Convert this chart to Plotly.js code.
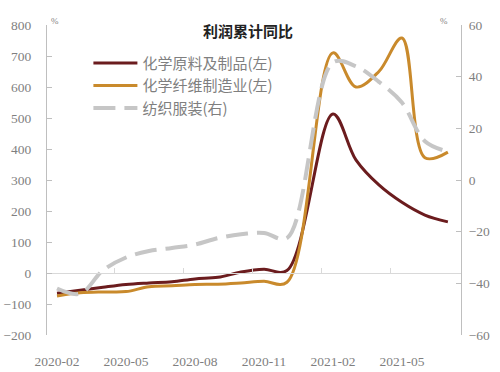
<!DOCTYPE html>
<html><head><meta charset="utf-8">
<script src="https://cdn.plot.ly/plotly-3.0.1.min.js"></script>
<style>html,body{margin:0;padding:0;background:#fff}#chart{width:500px;height:372px}</style>
</head><body><div id="chart"></div>
<script>
// ---- data ----
const months = ['2020-02','2020-03','2020-04','2020-05','2020-06','2020-07','2020-08','2020-09','2020-10','2020-11','2020-12','2021-01','2021-02','2021-03','2021-04','2021-05','2021-06','2021-07'];
const chemMaterials = [-65, -56, -46, -37, -32, -28, -19, -14, 3, 12, 8, null, 513, 365, 284, 228, 187, 165];
const chemFiber     = [-74, -64, -61, -60, -44, -41, -37, -36, -32, -27, -30, null, 710, 600, 650, 758, 372, 390];
const textileApparel= [-42, -44, -35, -30, -27.5, -26.3, -25, -22.5, -21, -20.5, -22.5, null, 45.5, 44, 38, 30, 15, 11];
const seriesNames = ['化学原料及制品(左)', '化学纤维制造业(左)', '纺织服装(右)'];
const xTickLabels = ['2020-02','2020-05','2020-08','2020-11','2021-02','2021-05'];
const chartTitle = '利润累计同比';
const unitLabel = '%';

// ---- derived ----
const xIdx = months.map((m, i) => i);
const tickIdx = xTickLabels.map(l => months.indexOf(l));
const boundaryIdx = tickIdx.slice(1).map(i => i - 0.5);
const xRange = [-0.435, 17.57];

const numFont = {family: 'Liberation Serif, DejaVu Serif, serif', size: 13.5, color: '#7f7f7f'};
const axisGray = '#bfbfbf';

const traces = [
  {x: xIdx, y: chemMaterials, name: seriesNames[0], type: 'scatter', mode: 'lines',
   connectgaps: true, line: {color: '#6b1c1e', width: 3, shape: 'spline', smoothing: 1}, hoverinfo: 'skip'},
  {x: xIdx, y: chemFiber, name: seriesNames[1], type: 'scatter', mode: 'lines',
   connectgaps: true, line: {color: '#c98a2c', width: 3, shape: 'spline', smoothing: 1}, hoverinfo: 'skip'},
  {x: xIdx, y: textileApparel, name: seriesNames[2], type: 'scatter', mode: 'lines', yaxis: 'y2',
   connectgaps: true, line: {color: '#c6c6c6', width: 4, shape: 'spline', smoothing: 1, dash: '22px,9px'}, hoverinfo: 'skip'},
  {x: [], y: [], xaxis: 'x2', yaxis: 'y', showlegend: false, hoverinfo: 'skip', type: 'scatter', mode: 'lines'}
];

const layout = {
  width: 500, height: 372,
  margin: {l: 47, r: 39, t: 25, b: 37, pad: 0},
  paper_bgcolor: '#fff', plot_bgcolor: '#fff',
  showlegend: true,
  title: {text: chartTitle, x: 0.496, xanchor: 'center', y: 0.915, yanchor: 'middle',
          font: {family: 'Noto Sans CJK SC', size: 15, color: '#222', weight: 'bold'}},
  legend: {x: 0.1, y: 0.93, xanchor: 'left', yanchor: 'top', bgcolor: 'rgba(0,0,0,0)',
           itemwidth: 44, font: {family: 'Noto Sans CJK SC', size: 15, color: '#7f7f7f'}},
  xaxis: {range: xRange, tickmode: 'array', tickvals: tickIdx, ticktext: xTickLabels,
          showgrid: false, zeroline: false, showline: false,
          ticks: 'outside', ticklen: 14, tickcolor: 'rgba(0,0,0,0)', tickfont: numFont},
  xaxis2: {overlaying: 'x', anchor: 'free', position: 0.2, side: 'top', range: xRange,
           tickmode: 'array', tickvals: boundaryIdx, showticklabels: false,
           ticks: 'outside', ticklen: 5, tickcolor: '#d9d9d9', showline: true, linecolor: '#d9d9d9', linewidth: 1,
           showgrid: false, zeroline: false},
  yaxis: {range: [-200, 800], dtick: 100, showgrid: false, zeroline: false,
          showline: true, linecolor: axisGray, ticks: 'inside', ticklen: 5, tickcolor: axisGray,
          tickfont: numFont, ticklabelstandoff: 12},
  yaxis2: {overlaying: 'y', side: 'right', range: [-60, 60], dtick: 20, showgrid: false, zeroline: false,
           showline: true, linecolor: axisGray, ticks: 'inside', ticklen: 5, tickcolor: axisGray,
           tickfont: numFont, ticklabelstandoff: 4},
  annotations: [
    {xref: 'paper', yref: 'paper', x: 0.02, y: 1.013, text: unitLabel, showarrow: false,
     xanchor: 'center', yanchor: 'middle', font: {family: 'Liberation Serif', size: 9, color: '#7f7f7f'}},
    {xref: 'paper', yref: 'paper', x: 0.959, y: 1.013, text: unitLabel, showarrow: false,
     xanchor: 'center', yanchor: 'middle', font: {family: 'Liberation Serif', size: 9, color: '#7f7f7f'}}
  ]
};

Plotly.newPlot('chart', traces, layout, {staticPlot: true, displayModeBar: false});
</script>
</body></html>
